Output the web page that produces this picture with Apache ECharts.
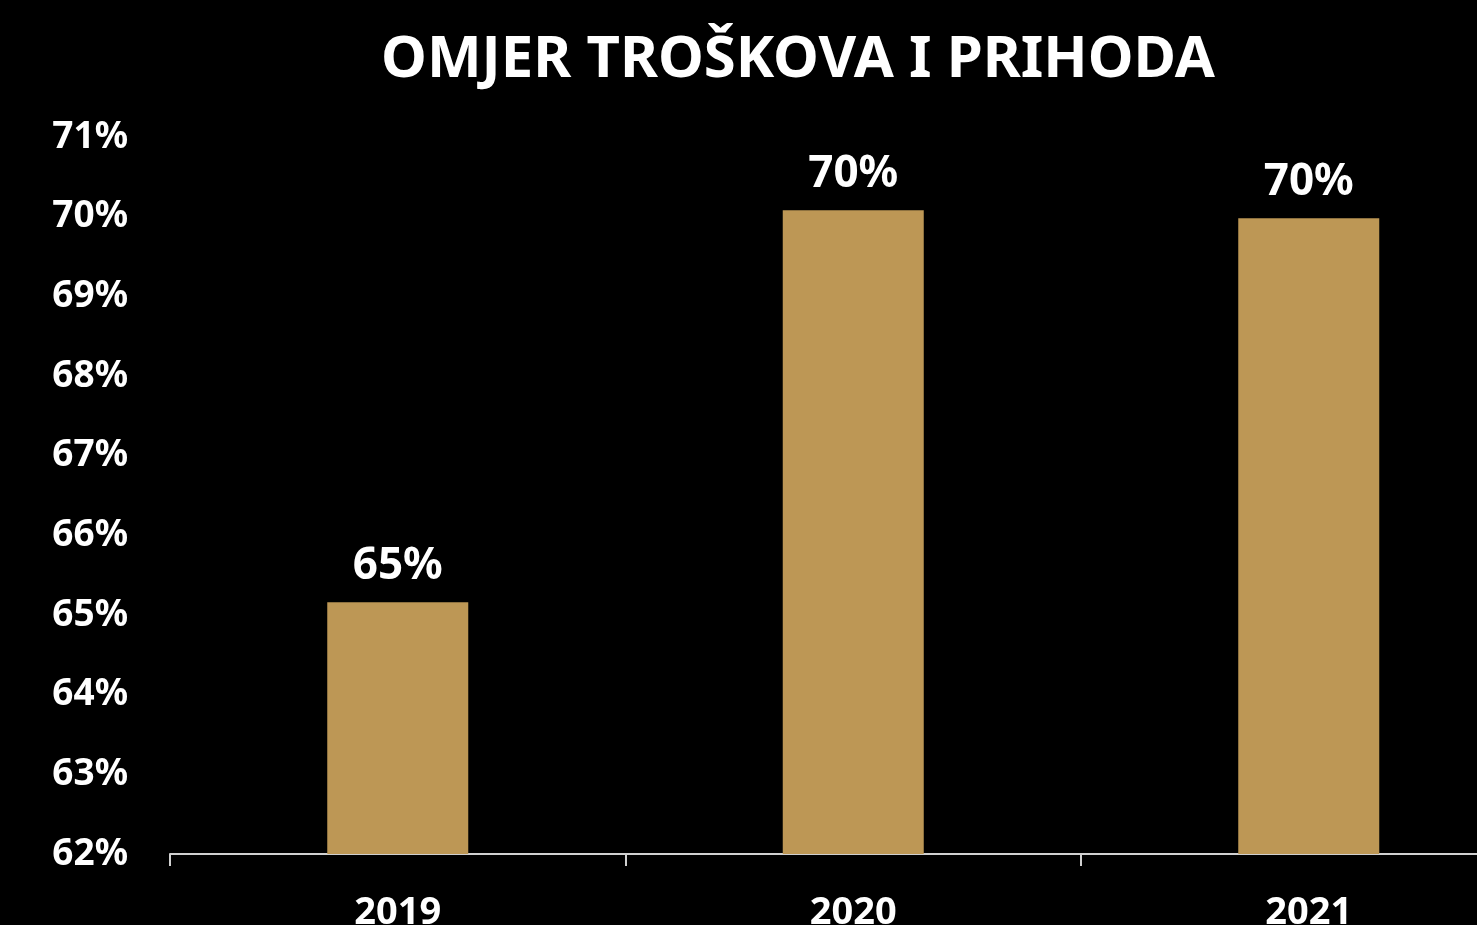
<!DOCTYPE html>
<html>
<head>
<meta charset="utf-8">
<script src="https://cdn.jsdelivr.net/npm/echarts@6/dist/echarts.min.js"></script>
<style>
html,body{margin:0;padding:0;background:#000;overflow:hidden;}
#chart{width:1477px;height:925px;}
</style>
</head>
<body>
<div id="chart"></div>
<script>
const titleText = 'OMJER TROŠKOVA I PRIHODA';
const categories = ['2019', '2020', '2021'];
const values = [65.16, 70.08, 69.98];
const yMin = 62, yMax = 71, yStep = 1;

const FONT = '"Noto Sans", sans-serif';
const chart = echarts.init(document.getElementById('chart'));
chart.setOption({
  backgroundColor: '#000000',
  animation: false,
  title: {
    text: titleText,
    left: 793,
    top: 26,
    textAlign: 'center',
    textStyle: { color: '#ffffff', fontFamily: FONT, fontWeight: 'bold', fontSize: 58 }
  },
  grid: { left: 170, top: 137, width: 1366.5, height: 717, containLabel: false, outerBoundsMode: 'none' },
  xAxis: {
    type: 'category',
    data: categories,
    axisLine: { lineStyle: { color: '#d0d0d0', width: 2 } },
    axisTick: { show: true, length: 12, lineStyle: { color: '#d0d0d0', width: 2 } },
    axisLabel: { color: '#ffffff', fontFamily: FONT, fontWeight: 'bold', fontSize: 38, margin: 40 },
    splitLine: { show: false }
  },
  yAxis: {
    type: 'value',
    min: yMin, max: yMax, interval: yStep,
    axisLine: { show: false },
    axisTick: { show: false },
    splitLine: { show: false },
    axisLabel: { color: '#ffffff', fontFamily: FONT, fontWeight: 'bold', fontSize: 37, margin: 42,
      formatter: v => v + '%' }
  },
  series: [{
    type: 'bar',
    data: values,
    barWidth: 141,
    itemStyle: { color: '#BD9755' },
    label: {
      show: true, position: 'top', distance: 14,
      color: '#ffffff', fontFamily: FONT, fontWeight: 'bold', fontSize: 44,
      formatter: p => Math.round(p.value) + '%'
    }
  }]
});
</script>
</body>
</html>
